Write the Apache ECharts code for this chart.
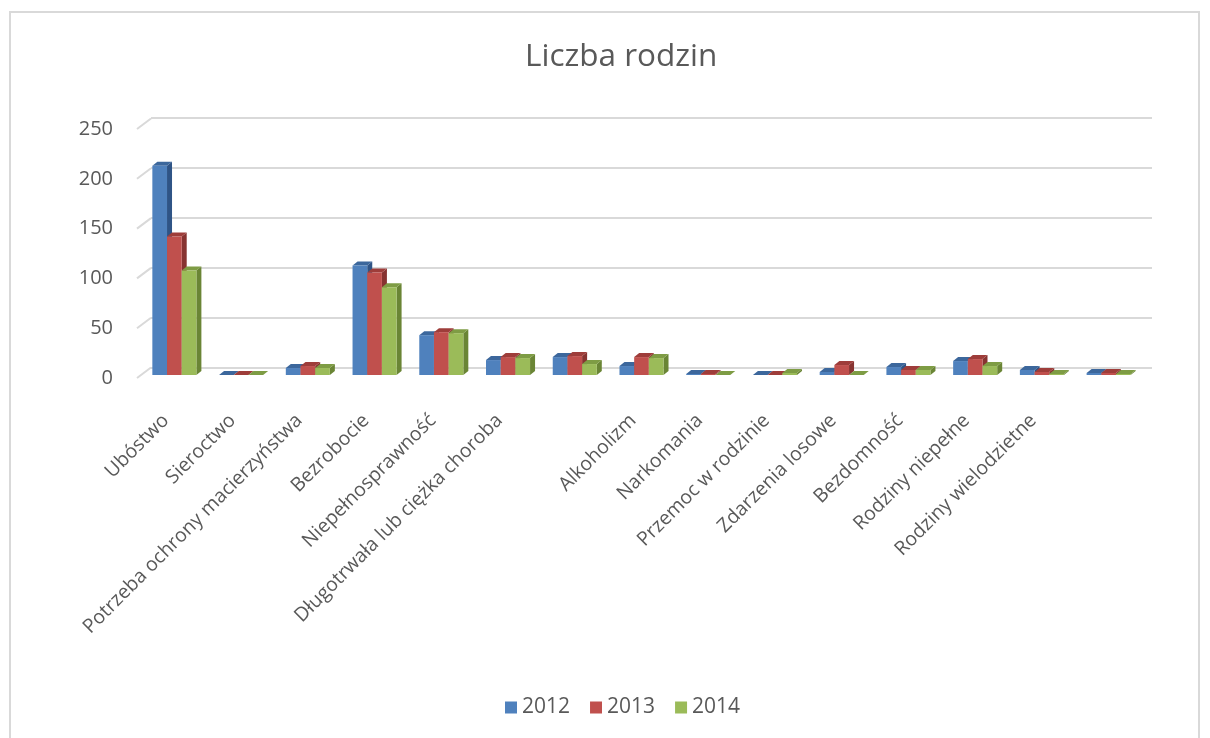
<!DOCTYPE html>
<html>
<head>
<meta charset="utf-8">
<script src="https://cdn.jsdelivr.net/npm/echarts@6/dist/echarts.min.js"></script>
<style>
  html, body { margin: 0; padding: 0; background: #fff; }
  #main { width: 1210px; height: 738px; }
</style>
</head>
<body>
<div id="main"></div>
<script>
// kategorie (dwie bez podpisu na osi)
const categories = [
  "Ubóstwo", "Sieroctwo", "Potrzeba ochrony macierzyństwa", "Bezrobocie",
  "Niepełnosprawność", "Długotrwała lub ciężka choroba", "", "Alkoholizm",
  "Narkomania", "Przemoc w rodzinie", "Zdarzenia losowe", "Bezdomność",
  "Rodziny niepełne", "Rodziny wielodzietne", " "
];
const years = ["2012", "2013", "2014"];
const data2012 = [210, 0, 7, 110, 40, 15, 18, 9, 1, 0, 3, 8, 14, 5, 2];
const data2013 = [139, 0, 9, 103, 43, 18, 19, 18, 1, 0, 10, 5, 16, 3, 2];
const data2014 = [105, 0, 7, 88, 42, 17, 11, 17, 0, 2, 0, 5, 9, 1, 1];
const yTicks = [0, 50, 100, 150, 200, 250];

const font = "Open Sans";
const textColor = "#595959";

// kolory: przód, góra, bok
const palette = [
  ["#4f81bd", "#3c679c", "#2f5486"],
  ["#c0504d", "#9e3d3a", "#873331"],
  ["#9bbb59", "#7e9c44", "#6a8535"]
];

function barRenderer(si) {
  const c = palette[si];
  return function (params, api) {
    const ci = api.value(0);
    const v = api.value(1);
    const p0 = api.coord([ci, 0]);
    const p1 = api.coord([ci, v]);
    const band = api.size([1, 0])[0];
    const bw = band * 0.22;
    const x0 = p0[0] - 1.5 * bw + si * bw;
    const yb = p0[1], yt = p1[1];
    const dx = 5, dy = 4;
    return {
      type: "group",
      children: [
        {
          type: "polygon",
          shape: { points: [[x0 + bw, yt], [x0 + bw + dx, yt - dy], [x0 + bw + dx, yb - dy], [x0 + bw, yb]] },
          style: { fill: c[2] }
        },
        {
          type: "polygon",
          shape: { points: [[x0, yt], [x0 + dx, yt - dy], [x0 + bw + dx, yt - dy], [x0 + bw, yt]] },
          style: { fill: c[1] }
        },
        {
          type: "rect",
          shape: { x: x0, y: yt, width: bw, height: yb - yt },
          style: { fill: c[0] }
        }
      ]
    };
  };
}

const seriesData = [data2012, data2013, data2014];

const myChart = echarts.init(document.getElementById("main"));
const option = {
  backgroundColor: "#fff",
  textStyle: { fontFamily: font },
  title: {
    text: "Liczba rodzin",
    left: 520,
    top: 36,
    textStyle: { color: textColor, fontSize: 31.5, fontWeight: "normal", fontFamily: font }
  },
  legend: {
    data: years,
    bottom: 15,
    left: 500,
    icon: "rect",
    itemWidth: 12,
    itemHeight: 12,
    itemGap: 20,
    textStyle: { color: textColor, fontSize: 21, fontFamily: font }
  },
  graphic: [
    {
      type: "rect",
      silent: true,
      shape: { x: 10, y: 12, width: 1189, height: 760 },
      style: { fill: null, stroke: "#d9d9d9", lineWidth: 2 }
    }
  ],
  grid: [
    // słupki
    { left: 141, right: 68, top: 126, bottom: 363 },
    // płaszczyzna przednia (etykiety osi Y)
    { left: 137, right: 72, top: 129, bottom: 360 },
    // tylna ściana (linie siatki)
    { left: 151, right: 58, top: 118, bottom: 370 }
  ],
  xAxis: [
    {
      gridIndex: 0,
      type: "category",
      data: categories,
      axisLine: { show: false },
      axisTick: { show: false },
      axisLabel: {
        rotate: 45,
        interval: 0,
        margin: 34,
        padding: [0, 12, 0, 0],
        color: textColor,
        fontSize: 19.5,
        fontFamily: font
      }
    },
    { gridIndex: 1, type: "value", min: 0, max: 1, show: false },
    { gridIndex: 2, type: "value", min: 0, max: 1, show: false }
  ],
  yAxis: [
    { gridIndex: 0, type: "value", min: 0, max: 250, interval: 50, show: false },
    {
      gridIndex: 1,
      type: "value",
      min: 0,
      max: 250,
      interval: 50,
      axisLine: { show: false },
      axisTick: { show: false },
      splitLine: { show: false },
      axisLabel: { margin: 24, color: textColor, fontSize: 20, fontFamily: font }
    },
    {
      gridIndex: 2,
      type: "value",
      min: 0,
      max: 250,
      interval: 50,
      axisLine: { show: false },
      axisTick: { show: false },
      axisLabel: { show: false },
      splitLine: { show: true, lineStyle: { color: "#d9d9d9", width: 2 } }
    }
  ],
  series: [
    {
      name: "slant",
      type: "custom",
      xAxisIndex: 1,
      yAxisIndex: 1,
      silent: true,
      data: yTicks.map(function (t) { return [0, t]; }),
      renderItem: function (params, api) {
        const p = api.coord([0, api.value(1)]);
        return {
          type: "line",
          shape: { x1: p[0], y1: p[1], x2: p[0] + 14, y2: p[1] - 10.5 },
          style: { stroke: "#d9d9d9", lineWidth: 2 }
        };
      }
    }
  ].concat(years.map(function (y, si) {
    return {
      name: y,
      type: "custom",
      xAxisIndex: 0,
      yAxisIndex: 0,
      itemStyle: { color: palette[si][0] },
      encode: { x: 0, y: 1 },
      data: seriesData[si].map(function (v, i) { return [i, v]; }),
      renderItem: barRenderer(si)
    };
  }))
};
myChart.setOption(option);
</script>
</body>
</html>
